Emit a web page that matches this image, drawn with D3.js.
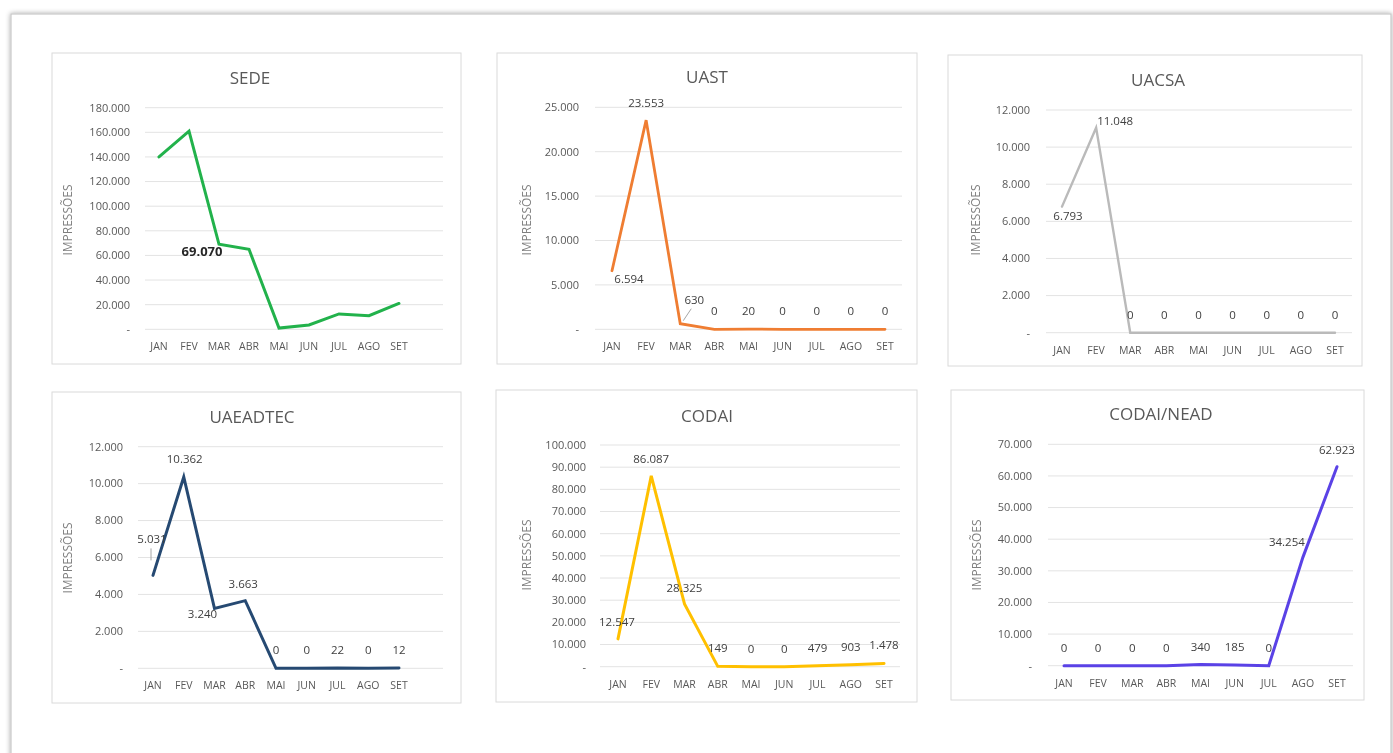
<!DOCTYPE html>
<html><head><meta charset="utf-8">
<script src="https://cdn.jsdelivr.net/npm/d3@7"></script>
<style>
html,body{margin:0;padding:0;background:#fff;}
svg{display:block;font-family:"Open Sans","Liberation Sans",sans-serif;}
</style></head>
<body>
<svg id="chart" width="1393" height="753"></svg>
<script>
// ---- data ----
const months = ["JAN","FEV","MAR","ABR","MAI","JUN","JUL","AGO","SET"];
const sede     = [140000,161000,69070,65000,1000,3500,12500,11000,21000];
const uast     = [6594,23553,630,0,20,0,0,0,0];
const uacsa    = [6793,11048,0,0,0,0,0,0,0];
const uaeadtec = [5031,10362,3240,3663,0,0,22,0,12];
const codai    = [12547,86087,28325,149,0,0,479,903,1478];
const codaiNead= [0,0,0,0,340,185,0,34254,62923];
const titles = ["SEDE","UAST","UACSA","UAEADTEC","CODAI","CODAI/NEAD"];
const yMaxes = [180000,25000,12000,12000,100000,70000];
const yStepsV = [20000,5000,2000,2000,10000,10000];
const axisTitle = "IMPRESSÕES";

// ---- layout / style ----
const panels = [
 {values:sede, color:"#22b24c", sw:3, box:[52,53,461,364], titleXY:[250,78], yRange:[329.3,107.7], xRange:[159,399], grid:[145,443], tickX:130, axX:68, axY:220, catY:346,
  labels:{2:[-17,7]}, only:[2], bigLabel:true},
 {values:uast, color:"#ef7d31", sw:2.8, box:[497,53,917,364], titleXY:[707,77], yRange:[329.3,107.3], xRange:[612,885], grid:[595,902], tickX:579, axX:527, axY:220, catY:346,
  labels:{1:[0,-17],0:[17,8],2:[14,-24]}, leader:{2:[[3,-3],[11,-15]]}},
 {values:uacsa, color:"#bababa", sw:2.4, box:[948,55,1362,366], titleXY:[1158,80], yRange:[332.7,110], xRange:[1062,1335], grid:[1046,1352], tickX:1030, axX:976, axY:220, catY:350,
  labels:{1:[19,-7],0:[6,9]}},
 {values:uaeadtec, color:"#254a72", sw:3, box:[52,392,461,703], titleXY:[252,417], yRange:[668.3,446.7], xRange:[153,399], grid:[138,443], tickX:123, axX:68, axY:558, catY:685,
  labels:{0:[-1,-36],1:[1,-18],2:[-12,6],3:[-2,-17]}, leader:{0:[[-2,-27],[-2,-15]]}},
 {values:codai, color:"#ffc000", sw:3, box:[496,390,917,702], titleXY:[707,416], yRange:[666.7,445], xRange:[618,884], grid:[600,900], tickX:586, axX:527, axY:555, catY:684,
  labels:{1:[0,-17],0:[-1,-17],2:[0,-16]}},
 {values:codaiNead, color:"#5a42e6", sw:3, box:[951,390,1364,700], titleXY:[1161,414], yRange:[665.7,444.3], xRange:[1064,1337], grid:[1048,1353], tickX:1032, axX:977, axY:555, catY:683,
  labels:{8:[0,-17],7:[-16,-15]}}
];

const loc = d3.formatLocale({decimal:",", thousands:".", grouping:[3], currency:["",""]});
const fmt = loc.format(",d");

const svg = d3.select("#chart");
const defs = svg.append("defs");
const f = defs.append("filter").attr("id","shadow").attr("x","-5%").attr("y","-5%").attr("width","110%").attr("height","110%");
f.append("feDropShadow").attr("dx",0).attr("dy",0).attr("stdDeviation",2.5).attr("flood-color","#000").attr("flood-opacity",0.35);
const bl = defs.append("filter").attr("id","soft");
bl.append("feGaussianBlur").attr("stdDeviation",0.35);

// outer page frame
svg.append("rect").attr("x",11).attr("y",14).attr("width",1380).attr("height",770)
  .attr("fill","#fff").attr("stroke","#c8c8c8").attr("stroke-width",1.2).attr("filter","url(#shadow)");

panels.forEach((p,i)=>{
  const g = svg.append("g").attr("filter","url(#soft)");
  const [x0,y0,x1,y1] = p.box;
  g.append("rect").attr("x",x0).attr("y",y0).attr("width",x1-x0).attr("height",y1-y0)
    .attr("fill","#fff").attr("stroke","#dadada").attr("stroke-width",1);

  const y = d3.scaleLinear().domain([0,yMaxes[i]]).range(p.yRange);
  const x = d3.scalePoint().domain(months).range(p.xRange);
  const ticks = d3.range(0, yMaxes[i]+1, yStepsV[i]);

  // gridlines
  g.append("g").selectAll("line").data(ticks).join("line")
    .attr("x1",p.grid[0]).attr("x2",p.grid[1])
    .attr("y1",d=>y(d)).attr("y2",d=>y(d))
    .attr("stroke","#e3e3e3").attr("stroke-width",1);

  // y tick labels
  g.append("g").selectAll("text").data(ticks).join("text")
    .attr("x",p.tickX).attr("y",d=>y(d)).attr("dy","0.35em")
    .attr("text-anchor","end").attr("font-size",11).attr("fill","#595959")
    .text(d=>d===0?"-":fmt(d));

  // category labels
  g.append("g").selectAll("text").data(months).join("text")
    .attr("x",d=>x(d)).attr("y",p.catY).attr("dy","0.35em")
    .attr("text-anchor","middle").attr("font-size",10.5).attr("fill","#595959")
    .text(d=>d);

  // title
  g.append("text").attr("x",p.titleXY[0]).attr("y",p.titleXY[1]).attr("dy","0.35em")
    .attr("text-anchor","middle").attr("font-size",17).attr("fill","#595959").text(titles[i]);

  // axis title
  g.append("text").attr("transform",`translate(${p.axX},${p.axY}) rotate(-90)`)
    .attr("dy","0.35em").attr("text-anchor","middle").attr("font-size",12).attr("fill","#7f7f7f")
    .text(axisTitle);

  // line
  const line = d3.line().x((d,j)=>x(months[j])).y(d=>y(d));
  g.append("path").datum(p.values).attr("d",line).attr("fill","none")
    .attr("stroke",p.color).attr("stroke-width",p.sw).attr("stroke-linejoin","miter").attr("stroke-linecap","round");

  // leader lines
  if (p.leader) Object.entries(p.leader).forEach(([j,pts])=>{
    const px = x(months[j]), py = y(p.values[j]);
    g.append("line").attr("x1",px+pts[0][0]).attr("y1",py+pts[0][1]).attr("x2",px+pts[1][0]).attr("y2",py+pts[1][1])
      .attr("stroke","#a6a6a6").attr("stroke-width",1);
  });

  // data labels
  const idx = p.only ? p.only : d3.range(months.length);
  g.append("g").selectAll("text").data(idx).join("text")
    .attr("x",j=>x(months[j]) + (p.labels[j]?p.labels[j][0]:0))
    .attr("y",j=>y(p.values[j]) + (p.labels[j]?p.labels[j][1]:-18))
    .attr("dy","0.35em").attr("text-anchor","middle")
    .attr("font-size",p.bigLabel?13:11.5).attr("font-weight",p.bigLabel?"bold":"normal")
    .attr("fill",p.bigLabel?"#262626":"#404040")
    .text(j=>fmt(p.values[j]));
});
</script>
</body></html>
